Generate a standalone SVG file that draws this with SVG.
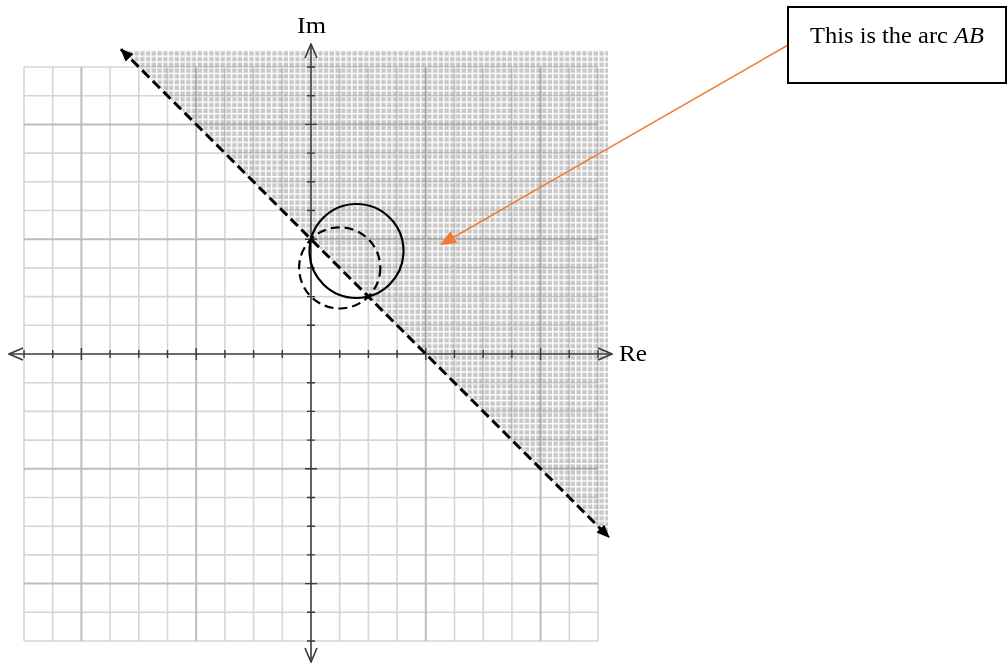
<svg xmlns="http://www.w3.org/2000/svg" width="1008" height="664" viewBox="0 0 1008 664">
<style>
.minor{stroke:#d6d6d6;stroke-width:1.6;fill:none}
.major{stroke:#bdbdbd;stroke-width:2;fill:none}
.axis{stroke:#3a3a3a;stroke-width:1.6;fill:none}
.tick{stroke:#3a3a3a;stroke-width:1.4;fill:none}
.lbl{font-family:"Liberation Serif",serif;font-size:24px;fill:#000}
</style>
<defs>
<pattern id="fine" patternUnits="userSpaceOnUse" x="311" y="354" width="5.74" height="5.74">
<rect width="5.74" height="5.74" fill="#c8c8c8"/>
<rect width="5.74" height="1.4" fill="#ffffff"/>
<rect width="1.4" height="5.74" fill="#ffffff"/>
</pattern>
<marker id="tri" viewBox="0 0 12 10" refX="11" refY="5" markerWidth="14" markerHeight="11" markerUnits="userSpaceOnUse" orient="auto-start-reverse">
<path d="M0,0 L12,5 L0,10 Z" fill="#000"/>
</marker>
<marker id="otri" viewBox="0 0 14 12" refX="13" refY="6" markerWidth="16" markerHeight="14" markerUnits="userSpaceOnUse" orient="auto">
<path d="M0,0 L14,6 L0,12 Z" fill="#ed7d31"/>
</marker>
<marker id="chev" viewBox="0 0 16 14" refX="15" refY="7" markerWidth="16" markerHeight="14" markerUnits="userSpaceOnUse" orient="auto-start-reverse">
<path d="M1,1 L15,7 L1,13" fill="none" stroke="#3a3a3a" stroke-width="1.6"/>
</marker>
</defs>
<rect width="1008" height="664" fill="#ffffff"/>
<g id="shaded-region">
<polygon points="121.8,50 608,50 608,536.2" fill="url(#fine)"/>
</g>
<g id="grid" style="mix-blend-mode:multiply">
<path class="minor" d="M24,67V641M52.7,67V641M110.1,67V641M138.8,67V641M167.5,67V641M224.9,67V641M253.6,67V641M282.3,67V641M339.7,67V641M368.4,67V641M397.1,67V641M454.5,67V641M483.2,67V641M511.9,67V641M569.3,67V641M598,67V641"/>
<path class="minor" d="M24,67H598M24,95.7H598M24,153.1H598M24,181.8H598M24,210.5H598M24,267.9H598M24,296.6H598M24,325.3H598M24,382.7H598M24,411.4H598M24,440.1H598M24,497.5H598M24,526.2H598M24,554.9H598M24,612.3H598M24,641H598"/>
<path class="major" d="M81.4,67V641M196.2,67V641M425.8,67V641M540.6,67V641M24,124.4H598M24,239.2H598M24,468.8H598M24,583.6H598"/>
</g>
<g id="axes">
<line class="axis" x1="311" y1="354" x2="9" y2="354" marker-end="url(#chev)"/>
<line class="axis" x1="311" y1="354" x2="612" y2="354" marker-end="url(#chev)"/>
<line class="axis" x1="311" y1="354" x2="311" y2="44" marker-end="url(#chev)"/>
<line class="axis" x1="311" y1="354" x2="311" y2="662" marker-end="url(#chev)"/>
<path class="tick" d="M24,350V358M52.7,350V358M81.4,348V360M110.1,350V358M138.8,350V358M167.5,350V358M196.2,348V360M224.9,350V358M253.6,350V358M282.3,350V358M339.7,350V358M368.4,350V358M397.1,350V358M425.8,348V360M454.5,350V358M483.2,350V358M511.9,350V358M540.6,348V360M569.3,350V358M598,350V358"/>
<path class="tick" d="M307,67H315M307,95.7H315M305,124.4H317M307,153.1H315M307,181.8H315M307,210.5H315M305,239.2H317M307,267.9H315M307,296.6H315M307,325.3H315M307,382.7H315M307,411.4H315M307,440.1H315M305,468.8H317M307,497.5H315M307,526.2H315M307,554.9H315M305,583.6H317M307,612.3H315M307,641H315"/>
<text id="label-im" class="lbl" x="297" y="33" textLength="29" lengthAdjust="spacingAndGlyphs">Im</text>
<text id="label-re" class="lbl" x="619" y="361" textLength="28" lengthAdjust="spacingAndGlyphs">Re</text>
</g>
<g id="circles">
<circle id="solid-circle" cx="356.5" cy="251" r="47" fill="none" stroke="#000" stroke-width="2.2"/>
<circle id="dashed-circle" cx="339.7" cy="267.9" r="40.6" fill="none" stroke="#000" stroke-width="2.2" stroke-dasharray="9,5"/>
</g>
<g id="connectors">
<line id="boundary-line" x1="121" y1="49.2" x2="609" y2="537.2" stroke="#000" stroke-width="3" stroke-dasharray="10,5" marker-start="url(#tri)" marker-end="url(#tri)"/>
<line id="callout-arrow" x1="788" y1="45" x2="441" y2="244.5" stroke="#ed7d31" stroke-width="1.5" marker-end="url(#otri)"/>
</g>
<g id="callout-box">
<rect x="788" y="7" width="218" height="76" fill="#ffffff" stroke="#000" stroke-width="2"/>
<text class="lbl" x="810" y="43" font-size="23" textLength="174" lengthAdjust="spacingAndGlyphs">This is the arc <tspan font-style="italic">AB</tspan></text>
</g>
</svg>
